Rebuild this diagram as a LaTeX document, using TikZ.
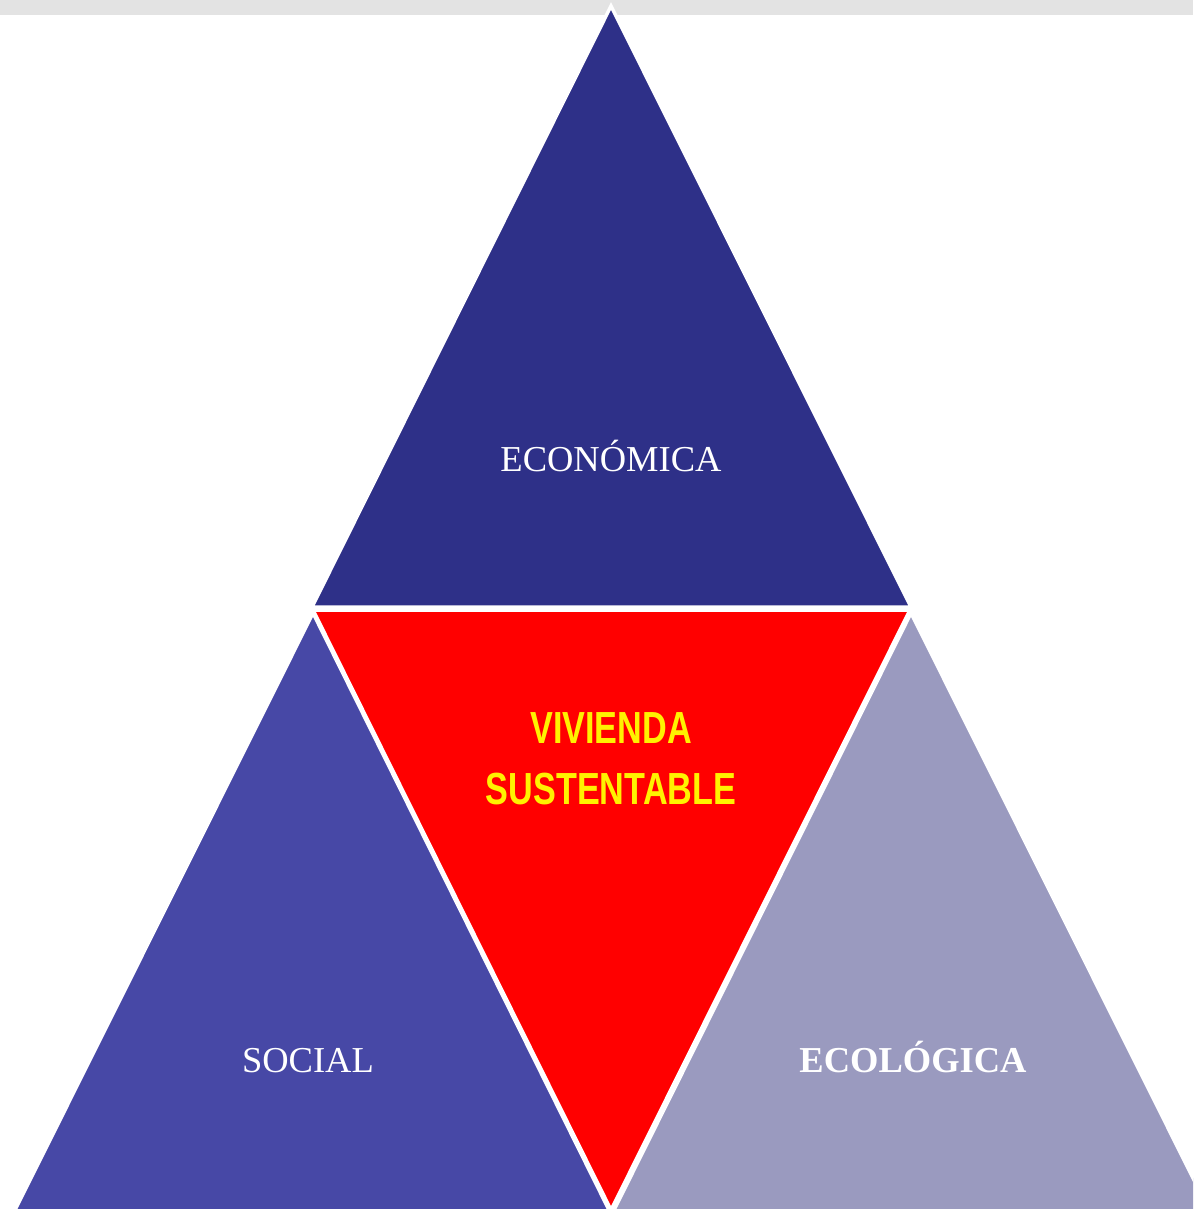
\documentclass[tikz,border=0pt]{standalone}
\usepackage{fontspec}
\setmainfont{Liberation Serif}
\newfontfamily\vsans{Liberation Sans}
\definecolor{econ}{HTML}{2E3088}
\definecolor{soc}{HTML}{4748A6}
\definecolor{eco}{HTML}{9A9ABF}
\definecolor{band}{HTML}{E3E3E3}
\begin{document}
\begin{tikzpicture}[x=1pt,y=-1pt,
  tri/.style={draw=white,line width=3.5pt,line join=miter},
  lbl/.style={text=white,font=\fontsize{36.5}{40}\selectfont,anchor=base,inner sep=0pt},
  vlbl/.style={text=yellow,anchor=base,inner sep=0pt,font=\vsans\bfseries\fontsize{45}{50}\selectfont}]
\useasboundingbox (0,0) rectangle (1193,1209);
\clip (0,0) rectangle (1193,1209);
\fill[white] (0,0) rectangle (1193,1209);
\fill[band] (0,0) rectangle (1193,15);
% top triangle
\filldraw[tri,fill=econ] (611,6) -- (911,607) -- (312,607) -- cycle;
% bottom left
\filldraw[tri,fill=soc] (313,613) -- (610,1212) -- (14,1212) -- cycle;
% bottom right
\filldraw[tri,fill=eco] (911,613) -- (1210,1212) -- (613,1212) -- cycle;
% red center
\filldraw[tri,fill=red] (313,610) -- (910,610) -- (611,1210) -- cycle;
\node[lbl] (econl) at (611,471) {ECONÓMICA};
\node[lbl] (socl) at (308,1072) {SOCIAL};
\node[lbl,font=\bfseries\fontsize{36.5}{40}\selectfont] (ecol) at (913,1072) {ECOLÓGICA};
\node[vlbl] (v1) at (611,743) {\scalebox{0.76}[1]{VIVIENDA}};
\node[vlbl] (v2) at (611,804) {\scalebox{0.76}[1]{SUSTENTABLE}};
\end{tikzpicture}
\end{document}
